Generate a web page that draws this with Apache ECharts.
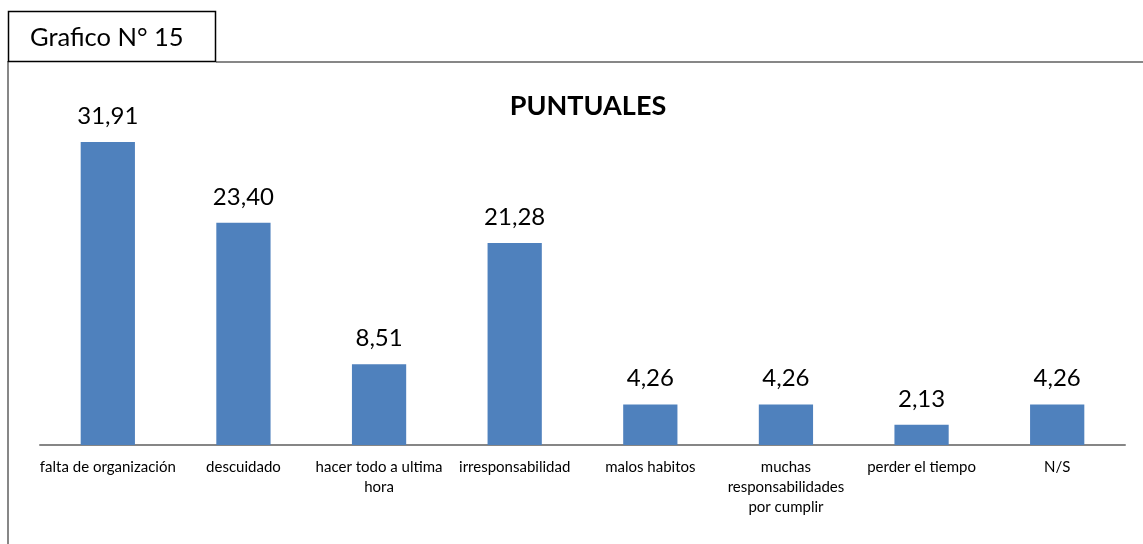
<!DOCTYPE html>
<html>
<head>
<meta charset="utf-8">
<script src="https://cdn.jsdelivr.net/npm/echarts@6/dist/echarts.min.js"></script>
<style>html,body{margin:0;padding:0;background:#fff}#c{width:1143px;height:544px}</style>
</head>
<body>
<div id="c"></div>
<script>
const categories = ["falta de organización", "descuidado", "hacer todo a ultima\nhora", "irresponsabilidad", "malos habitos", "muchas\nresponsabilidades\npor cumplir", "perder el tiempo", "N/S"];
const values = [31.91, 23.40, 8.51, 21.28, 4.26, 4.26, 2.13, 4.26];
const chartTitle = "PUNTUALES";
const boxLabel = "Grafico N° 15";
const FONT = "Lato, 'Noto Sans', sans-serif";

const chart = echarts.init(document.getElementById('c'));
chart.setOption({
  animation: false,
  title: {
    text: chartTitle, left: 583, top: 88, textAlign: 'center',
    textStyle: { fontFamily: FONT, fontSize: 27, fontWeight: 'bold', color: '#000' }
  },
  grid: { left: 40, right: 18, top: 112.6, bottom: 99, containLabel: false },
  xAxis: {
    type: 'category', data: categories,
    axisLine: { lineStyle: { color: '#868686', width: 2 } },
    axisTick: { show: false },
    axisLabel: { interval: 0, margin: 12, fontFamily: FONT, fontSize: 15, color: '#000', lineHeight: 20, align: 'center' }
  },
  yAxis: { type: 'value', min: 0, max: 35, show: false, splitLine: { show: false } },
  series: [{
    type: 'bar', data: values, barWidth: '40%',
    itemStyle: { color: '#4F81BD' },
    label: {
      show: true, position: 'top', distance: 14,
      fontFamily: FONT, fontSize: 24, color: '#000',
      formatter: p => p.value.toFixed(2).replace('.', ',')
    }
  }],
  graphic: [
    { type: 'line', shape: { x1: 216, y1: 62, x2: 1143, y2: 62 }, style: { stroke: '#878787', lineWidth: 2 } },
    { type: 'line', shape: { x1: 8, y1: 61, x2: 8, y2: 544 }, style: { stroke: '#878787', lineWidth: 2 } },
    { type: 'rect', shape: { x: 8.5, y: 11.5, width: 207, height: 50 }, style: { fill: '#fff', stroke: '#000', lineWidth: 1.5 } },
    { type: 'text', x: 30, y: 38, style: { text: boxLabel, fontFamily: FONT, fontSize: 25.5, fill: '#000', textVerticalAlign: 'middle' } }
  ]
});
</script>
</body>
</html>
